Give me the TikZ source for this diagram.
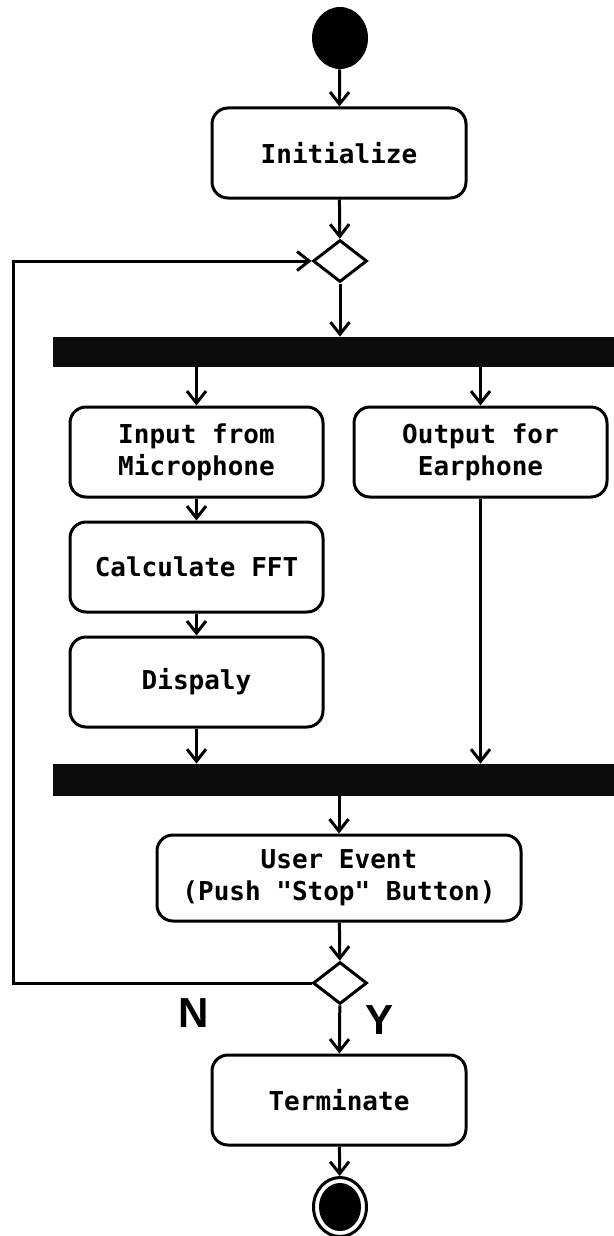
\documentclass[tikz,border=0pt]{standalone}
\usepackage{fontspec}
\setmonofont{DejaVu Sans Mono}
\setsansfont{Liberation Sans}
\usetikzlibrary{arrows.meta,shapes.geometric}

\tikzset{
  act/.style={draw, line width=1.5pt, rounded corners=8pt, inner sep=0pt,
    align=center, font=\ttfamily\bfseries\fontsize{13}{16}\selectfont},
  bar/.style={fill=black!95, draw=none, inner sep=0pt},
  choice/.style={diamond, draw, line width=1.5pt, inner sep=0pt,
    minimum width=27pt, minimum height=21pt},
  flow/.style={line width=1.5pt, -{Straight Barb[length=6pt,width=9.5pt,line width=1.5pt]}},
  line/.style={line width=1.5pt},
  yn/.style={font=\sffamily\bfseries\fontsize{21}{21}\selectfont, inner sep=0pt}
}

\begin{document}
\begin{tikzpicture}[x=0.5pt, y=-0.5pt]
\useasboundingbox (0,0) rectangle (614,1236);

% start and end points
\node[ellipse, fill=black, inner sep=0pt, minimum width=28pt, minimum height=31pt] (start) at (340,38) {};
\node[ellipse, draw, line width=1.5pt, inner sep=0pt, minimum width=26.5pt, minimum height=29.5pt] (stop) at (340,1207) {};
\node[ellipse, fill=black, inner sep=0pt, minimum width=21pt, minimum height=24pt] (stopdot) at (340,1207) {};

% actions
\node[act, minimum width=127pt, minimum height=45pt] (init) at (339,153) {Initialize};
\node[act, minimum width=126.5pt, minimum height=45pt] (inp) at (196.5,452) {Input from\\Microphone};
\node[act, minimum width=126.5pt, minimum height=45pt] (outp) at (480.5,452) {Output for\\Earphone};
\node[act, minimum width=126.5pt, minimum height=45pt] (fft) at (196.5,567) {Calculate FFT};
\node[act, minimum width=126.5pt, minimum height=45pt] (disp) at (196.5,682) {Dispaly};
\node[act, minimum width=182pt, minimum height=43pt] (user) at (339,878) {User Event\\(Push "Stop" Button)};
\node[act, minimum width=127pt, minimum height=45pt] (term) at (339,1100) {Terminate};

% decisions
\node[choice] (d1) at (340,261) {};
\node[choice] (d2) at (340,983) {};

% fork and join bars
\node[bar, minimum width=280.5pt, minimum height=15pt] (bar1) at (333.5,352) {};
\node[bar, minimum width=280.5pt, minimum height=16pt] (bar2) at (333.5,780) {};

% branch labels
\node[yn] (lblN) at (194,1013) {N};
\node[yn] (lblY) at (380,1020) {Y};

% connectors
\draw[flow] (start) -- (init);
\draw[flow] (init) -- (d1);
\draw[flow] (d1) -- (d1.south |- bar1.north);
\draw[flow] (inp.north |- bar1.south) -- (inp.north);
\draw[flow] (outp.north |- bar1.south) -- (outp.north);
\draw[flow] (inp) -- (fft);
\draw[flow] (fft) -- (disp);
\draw[flow] (disp) -- (disp.south |- bar2.north);
\draw[flow] (outp) -- (outp.south |- bar2.north);
\draw[flow] (user.north |- bar2.south) -- (user);
\draw[flow] (user) -- (d2);
\draw[flow] (d2) -- (term);
\draw[flow] (term) -- (stop);
\coordinate (loopc) at (13,983);
\draw[flow] (d2.west) -- (loopc) |- (d1.west);
\end{tikzpicture}
\end{document}
